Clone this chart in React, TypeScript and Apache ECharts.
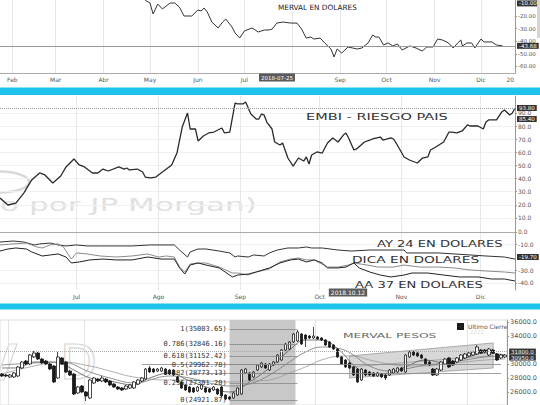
import React, { useEffect, useRef } from 'react';
import * as echarts from 'echarts';

const MONTHS_ES = ['Ene', 'Feb', 'Mar', 'Abr', 'May', 'Jun', 'Jul', 'Ago', 'Sep', 'Oct', 'Nov', 'Dic'];

// ---------- Panel 1: MERVAL EN DOLARES ----------
const mervalUsdDates = ['2018-04-26','2018-04-28','2018-05-01','2018-05-03','2018-05-06','2018-05-09','2018-05-14','2018-05-17','2018-05-20','2018-05-23','2018-05-28','2018-06-01','2018-06-03','2018-06-05','2018-06-07','2018-06-10','2018-06-14','2018-06-17','2018-06-19','2018-06-23','2018-06-25','2018-06-28','2018-07-01','2018-07-06','2018-07-10','2018-07-14','2018-07-17','2018-07-19','2018-07-22','2018-07-26','2018-07-31','2018-08-04','2018-08-07','2018-08-10','2018-08-13','2018-08-15','2018-08-19','2018-08-22','2018-08-26','2018-08-28','2018-08-30','2018-09-02','2018-09-06','2018-09-09','2018-09-12','2018-09-15','2018-09-19','2018-09-22','2018-09-24','2018-09-26','2018-09-29','2018-10-02','2018-10-05','2018-10-08','2018-10-11','2018-10-16','2018-10-20','2018-10-24','2018-10-27','2018-10-31','2018-11-03','2018-11-06','2018-11-10','2018-11-13','2018-11-16','2018-11-18','2018-11-19','2018-11-22','2018-11-25','2018-11-27','2018-12-01','2018-12-03','2018-12-08','2018-12-11','2018-12-15'];
const mervalUsdValues = [-4.0,-7.5,-9.7,-18.4,-10.5,-14.4,-9.7,-9.7,-12.9,-20.0,-20.0,-15.2,-16.0,-13.7,-16.8,-24.8,-29.5,-24.8,-22.4,-28.7,-33.5,-37.5,-31.9,-29.5,-32.7,-31.1,-31.1,-30.3,-25.6,-24.8,-25.6,-25.6,-30.3,-37.5,-36.7,-38.3,-37.5,-41.4,-46.2,-52.5,-46.2,-49.4,-44.6,-45.4,-46.2,-45.4,-41.4,-35.1,-36.7,-36.7,-43.0,-41.4,-43.8,-42.2,-47.0,-43.8,-45.4,-47.8,-44.6,-44.6,-38.3,-39.0,-41.4,-45.4,-41.4,-39.0,-43.8,-41.4,-41.4,-45.4,-38.3,-40.6,-40.6,-43.0,-43.68];
const mervalUsdLast = -43.68;
const mervalUsdCursor = -10;
const topXRange = ['2018-01-24', '2018-12-23'];
const topXTicks = ['2018-02-01','2018-03-01','2018-04-01','2018-05-01','2018-06-01','2018-07-01','2018-08-01','2018-09-01','2018-10-01','2018-11-01','2018-12-01'];
// "Ago" sits under the cursor date box in the reference, so it is not labelled
const topXLabels = ['2018-02-01','2018-03-01','2018-04-01','2018-05-01','2018-06-01','2018-07-01','2018-09-01','2018-10-01','2018-11-01','2018-12-01','2018-12-20'];
const topYTicks = [-60, -50, -40, -30, -20];

// ---------- Panel 2: EMBI ----------
const embiDates = ['2018-06-02','2018-06-05','2018-06-08','2018-06-11','2018-06-14','2018-06-17','2018-06-19','2018-06-22','2018-06-25','2018-06-27','2018-06-30','2018-07-02','2018-07-04','2018-07-07','2018-07-09','2018-07-11','2018-07-13','2018-07-17','2018-07-19','2018-07-20','2018-07-21','2018-07-24','2018-07-26','2018-07-27','2018-07-29','2018-07-31','2018-08-03','2018-08-06','2018-08-08','2018-08-10','2018-08-12','2018-08-13','2018-08-15','2018-08-16','2018-08-18','2018-08-20','2018-08-22','2018-08-25','2018-08-26','2018-08-28','2018-08-30','2018-08-31','2018-09-02','2018-09-03','2018-09-05','2018-09-07','2018-09-08','2018-09-09','2018-09-10','2018-09-11','2018-09-13','2018-09-14','2018-09-16','2018-09-17','2018-09-19','2018-09-21','2018-09-23','2018-09-25','2018-09-26','2018-09-27','2018-09-28','2018-09-30','2018-10-02','2018-10-04','2018-10-06','2018-10-08','2018-10-10','2018-10-11','2018-10-12','2018-10-14','2018-10-15','2018-10-18','2018-10-20','2018-10-21','2018-10-24','2018-10-25','2018-10-28','2018-10-29','2018-10-30','2018-11-02','2018-11-04','2018-11-07','2018-11-09','2018-11-11','2018-11-12','2018-11-14','2018-11-17','2018-11-19','2018-11-20','2018-11-22','2018-11-24','2018-11-26','2018-11-27','2018-11-30','2018-12-02','2018-12-03','2018-12-04','2018-12-07','2018-12-09','2018-12-10','2018-12-12','2018-12-13','2018-12-14'];
const embiValues = [25.2,19.9,21.4,29.0,39.0,44.3,42.8,36.7,42.0,48.9,55.0,50.4,48.9,44.3,44.3,47.3,45.8,48.9,47.3,48.1,46.6,47.3,45.0,41.2,40.5,41.2,45.8,50.4,59.5,79.3,90.0,77.8,77.8,68.7,72.5,74.8,75.5,78.6,74.8,75.5,97.6,96.9,96.9,98.4,89.2,85.4,85.4,89.2,88.5,83.1,77.8,67.9,65.6,67.1,55.7,49.6,55.7,53.4,56.5,51.1,58.0,60.3,59.5,67.1,71.0,67.9,73.2,74.8,71.0,61.8,62.6,67.9,69.4,70.2,71.7,69.4,71.0,70.2,67.1,56.5,54.2,51.9,55.7,56.5,61.8,64.1,67.9,75.5,75.5,74.8,76.3,80.9,80.1,80.1,77.8,83.1,84.7,84.7,90.8,92.3,88.5,90.0,93.8];
const embiLast = 93.8;
const embiMarker = 85.4;
const embiTicks = [10, 20, 30, 40, 50, 60, 70, 80, 90];
const midXRange = ['2018-06-02', '2018-12-14'];
const midXTicks = ['2018-07-01','2018-08-01','2018-09-01','2018-10-01','2018-11-01','2018-12-01'];

// ---------- Panel 2b: bonos en dolares ----------
const ay24Dates = ['2018-06-02','2018-06-07','2018-06-11','2018-06-15','2018-06-17','2018-06-21','2018-06-24','2018-06-27','2018-07-01','2018-07-05','2018-07-10','2018-07-16','2018-07-22','2018-07-29','2018-08-07','2018-08-09','2018-08-12','2018-08-13','2018-08-16','2018-08-19','2018-08-24','2018-08-28','2018-08-30','2018-08-31','2018-09-04','2018-09-06','2018-09-10','2018-09-12','2018-09-15','2018-09-19','2018-09-23','2018-09-26','2018-09-28','2018-10-02','2018-10-08','2018-10-13','2018-10-20','2018-10-28','2018-11-02','2018-11-03','2018-11-08','2018-11-15','2018-11-21','2018-11-27','2018-12-03','2018-12-10','2018-12-14'];
const ay24Values = [-7.9,-7.1,-7.9,-10.2,-9.4,-8.7,-10.2,-11.0,-10.2,-11.0,-11.0,-11.0,-11.0,-10.2,-10.2,-14.2,-19.7,-15.7,-13.4,-13.4,-15.0,-16.5,-19.7,-18.9,-19.7,-18.1,-18.9,-16.5,-14.2,-12.6,-12.6,-11.8,-12.6,-12.6,-14.2,-15.0,-14.2,-14.2,-14.2,-16.5,-16.5,-16.5,-17.3,-18.1,-18.9,-19.7,-21.3];
const dicaDates = ['2018-06-02','2018-06-07','2018-06-12','2018-06-16','2018-06-18','2018-06-21','2018-06-24','2018-06-26','2018-06-29','2018-07-01','2018-07-05','2018-07-10','2018-07-16','2018-07-22','2018-07-28','2018-08-01','2018-08-04','2018-08-07','2018-08-09','2018-08-11','2018-08-13','2018-08-16','2018-08-19','2018-08-24','2018-08-29','2018-08-31','2018-09-04','2018-09-07','2018-09-12','2018-09-16','2018-09-20','2018-09-23','2018-09-26','2018-09-29','2018-10-04','2018-10-08','2018-10-12','2018-10-14','2018-10-19','2018-10-23','2018-10-29','2018-11-02','2018-11-08','2018-11-15','2018-11-21','2018-11-27','2018-12-03','2018-12-10','2018-12-14'];
const dicaValues = [-10.2,-9.4,-8.7,-11.8,-12.6,-10.2,-9.4,-11.8,-21.3,-16.5,-17.3,-18.9,-19.7,-18.9,-17.3,-19.7,-18.9,-19.7,-27.6,-31.5,-25.2,-24.4,-24.4,-27.6,-32.3,-32.3,-33.9,-31.5,-29.1,-23.6,-21.3,-20.5,-22.0,-22.0,-27.6,-27.6,-26.0,-24.4,-26.0,-27.6,-27.6,-26.0,-27.6,-27.6,-28.3,-29.9,-30.7,-31.5,-32.3];
const aa37Dates = ['2018-06-02','2018-06-05','2018-06-08','2018-06-12','2018-06-14','2018-06-18','2018-06-21','2018-06-24','2018-06-27','2018-06-29','2018-07-02','2018-07-06','2018-07-11','2018-07-16','2018-07-22','2018-07-28','2018-08-02','2018-08-07','2018-08-09','2018-08-11','2018-08-13','2018-08-16','2018-08-19','2018-08-24','2018-08-29','2018-08-31','2018-09-04','2018-09-07','2018-09-12','2018-09-16','2018-09-20','2018-09-23','2018-09-26','2018-09-29','2018-10-02','2018-10-04','2018-10-08','2018-10-11','2018-10-14','2018-10-16','2018-10-20','2018-10-24','2018-10-28','2018-11-02','2018-11-05','2018-11-11','2018-11-17','2018-11-23','2018-11-30','2018-12-05','2018-12-10','2018-12-14'];
const aa37Values = [-15.0,-13.4,-12.6,-13.4,-15.7,-18.9,-18.1,-17.3,-19.7,-24.4,-23.6,-22.0,-21.3,-22.0,-22.0,-19.7,-21.3,-21.3,-28.3,-33.1,-26.0,-24.4,-26.0,-28.3,-35.4,-33.9,-33.1,-31.5,-28.3,-24.4,-22.0,-21.3,-23.6,-22.0,-24.4,-28.3,-28.3,-27.6,-24.4,-28.3,-31.5,-33.9,-35.4,-33.9,-32.3,-32.3,-33.9,-35.4,-35.4,-37.0,-37.0,-38.6];
const bondMarker = -19.7;
const bondTicks = [0, -10, -30, -40];

// ---------- Panel 3: MERVAL PESOS (open, close, low, high) ----------
const mervalCandles = [
  [28610,28330,28190,28760],[28470,28330,28190,28610],[28190,28470,28050,28610],[28190,28760,28050,28900],[28330,29610,28190,29750],
  [29470,30320,29320,30460],[30460,30030,29890,30600],[30030,31310,29890,31450],[31030,31600,30890,31880],[31600,30740,30600,31740],
  [30740,30180,30030,30890],[30460,30030,29890,30600],[30030,29320,29180,30180],[29750,27480,27340,29890],[28050,31030,27900,31740],
  [30890,30030,29890,31030],[30320,28900,28760,30460],[29040,28470,28330,29180],[28610,25770,25630,28760],[25920,26770,25770,26910],
  [26910,26060,25920,27050],[26060,25490,24780,26200],[25210,27760,25060,27900],[27340,28050,27190,28190],[27900,27620,27480,28050],
  [27620,28050,27480,28330],[27900,27480,27340,28050],[27620,27050,26910,27760],[27190,26770,26630,27340],[26770,26480,26340,26910],
  [26630,26340,26200,26770],[26480,26910,26340,27050],[26630,27050,26480,27190],[26630,27480,26480,27620],[27190,27760,27050,27900],
  [27620,28050,27480,28190],[27900,29320,27760,29470],[29470,28900,28760,29750],[29320,28900,28760,29470],[29040,29320,28900,29470],
  [29040,29470,28900,29610],[29320,28610,28470,29470],[29180,28610,28470,29320],[29180,28470,28330,29320],[28190,27480,27340,28330],
  [27480,26630,26480,27620],[27050,26340,26200,27190],[26770,26060,25920,26910],[26630,26060,25920,26770],[26200,26770,26060,26910],
  [26480,27050,26340,27190],[26630,26060,25920,26770],[26480,26060,25920,26630],[26340,26770,26200,26910],[26480,25770,25630,26630],
  [26770,25490,25350,26910],[25630,25060,24920,25770],[25350,25060,24920,25490],[25210,25920,25060,26060],[25630,26630,25490,26770],
  [25770,29180,25630,29320],[28760,29320,28610,29470],[28760,27760,27620,28900],[28190,28900,28050,29040],[29180,29890,29040,30030],
  [29610,30180,29470,30320],[30030,29470,29320,30180],[29180,30030,29040,30180],[29890,30320,29750,30460],[30320,31310,30180,31450],
  [30600,32020,30460,32160],[32020,32870,31880,33020],[32160,33160,32020,33300],[33160,34290,33020,34440],[33300,34580,33160,34860],
  [34290,32870,32730,34440],[34150,33580,32450,34290],[34010,33730,33580,34150],[33730,34010,33580,35290],[33870,33580,33440,34010],
  [33730,33440,33300,33870],[33440,32730,32590,33580],[33160,32450,32310,33300],[32730,32160,32020,32870],[32160,31030,30890,32310],
  [31030,30030,29890,31170],[30600,29610,29470,30740],[30180,29470,29320,30320],[29610,28470,28330,29750],[29320,27480,27340,29470],
  [27760,29320,27620,29470],[29180,28470,28330,29320],[28900,28470,28330,29040],[28760,28330,28190,28900],[28330,28760,28190,28900],
  [28610,28190,28050,28760],[28470,28050,27760,28610],[28470,29180,28330,29320],[28760,29320,28610,29470],[28900,29470,28760,29610],
  [29470,29040,28900,29610],[28900,31310,28760,31450],[31030,31740,30890,31880],[31740,31310,31170,31880],[31600,31170,31030,31740],
  [31310,30890,30740,31450],[30740,30030,29890,30890],[30320,29890,29750,30460],[29320,28470,28330,29470],[28470,29320,28330,29470],
  [29180,30320,29040,30460],[30030,30740,29890,30890],[30890,29610,29470,31030],[30460,29890,29750,30600],[30320,30890,30180,31030],
  [30600,31310,30460,31450],[30890,31450,30740,31600],[31170,31600,31030,31740],[31310,31740,31170,31880],[31450,32450,31310,32730],
  [32020,31600,31450,32160],[32020,31740,31600,32160],[31310,32160,31170,32310],[32020,31600,31450,32160],[31450,30600,30460,31600],
  [30890,31310,30740,31450],[31030,31310,30890,31450],
];
const sessions = mervalCandles.map((_, i) => `#${i + 1}`);
const maFast = [[0,29470],[4,29470],[8,30320],[11,30320],[15,30030],[18,29180],[22,28050],[27,27620],[33,27050],[37,28050],[42,28760],[47,27620],[52,26630],[57,26060],[62,27480],[67,29470],[72,32020],[76,33440],[80,33440],[85,31740],[88,29890],[92,28610],[97,28760],[101,29610],[106,30600],[111,30180],[116,30890],[121,31600],[126,31310]];
const maMid = [[0,29890],[8,30180],[15,30320],[22,28900],[27,28050],[33,27340],[42,28330],[47,28050],[52,27340],[57,26910],[62,27190],[67,28470],[72,30320],[76,31740],[80,32450],[85,32160],[88,31310],[92,29750],[97,29040],[101,29320],[106,29890],[111,30180],[116,30600],[121,31030],[126,31170]];
const maSlow = [[0,28610],[8,29750],[15,30320],[22,29750],[27,29040],[33,28190],[42,27760],[47,27760],[52,27620],[57,27480],[62,27620],[67,27760],[72,28760],[76,29610],[80,30600],[85,31170],[88,31170],[92,30600],[97,30030],[101,29750],[106,29750],[111,30030],[116,30320],[121,30600],[126,30740]];
const fibRatios = ['1', '0.786', '0.618', '0.5', '0.382', '0.236', '0'];
const fibValues = [35003.65, 32846.16, 31152.42, 29962.78, 28773.13, 27301.20, 24921.87];
const fibZoneSessions = [57, 74];
const fibExtendedLevels = [3, 4];
const fibExtendedFrom = [35, 47];
const fibExtendedTo = 125;
const channelSessions = [87, 123];
const channelTop = [31170, 33020];
const channelBottom = [28050, 29470];
const channelMid = [29610, 31240];
const lastCloseMarks = [31800, 30950];
const pesoTicks = [26000, 28000, 30000, 34000, 36000];
const monthSessions = [2, 21, 60, 79, 117];

const ts = (d: string) => Date.parse(d);
const zip = (d: string[], v: number[]) => d.map((x, i) => [ts(x), v[i]]);

const boxLabel = (text: string, size = 5.5) => ({
  show: true, position: 'end', distance: 2, formatter: text,
  backgroundColor: '#333', color: '#fff', fontSize: size, padding: [0, 2], lineHeight: size + 0.5,
  fontFamily: 'DejaVu Sans',
});
const HIDDEN_LINE = { color: 'transparent', width: 1 };

const monthFmt = (value: number) => {
  const d = new Date(value);
  return d.getUTCDate() === 1 ? MONTHS_ES[d.getUTCMonth()] : String(d.getUTCDate());
};

const Y0 = [-65.24, -7.3];
const Y1 = [3.9, 102.95];
const Y2 = [-45.67, 4.72];
const Y3 = [24212, 36282];

function buildOption() {
  const axisLbl = { fontSize: 6, color: '#555', margin: 3 };
  const midTicks = midXTicks.map(ts);
  const fibData: any[] = fibRatios.map((r, i) => [
    {
      coord: [fibZoneSessions[0], fibValues[i]],
      label: { show: true, position: 'start', distance: 3, formatter: `${r}(${fibValues[i].toFixed(2)})`, fontSize: 7, color: '#333', fontFamily: 'DejaVu Sans Mono' },
    },
    { coord: [fibZoneSessions[1], fibValues[i]] },
  ]);
  fibExtendedLevels.forEach((lvl, k) => {
    fibData.push([
      { coord: [fibExtendedFrom[k], fibValues[lvl]], label: { show: false } },
      { coord: [fibExtendedTo, fibValues[lvl]] },
    ]);
  });
  fibData.push({ yAxis: lastCloseMarks[0], lineStyle: { type: 'dotted', color: '#aaa', width: 1 }, label: boxLabel(lastCloseMarks[0].toFixed(1), 5.5) });
  fibData.push({ yAxis: lastCloseMarks[1], lineStyle: HIDDEN_LINE, label: boxLabel(lastCloseMarks[1].toFixed(1), 5.5) });

  const timeAxis = (gridIndex: number, range: string[], ticks: string[], labels: string[], showLabels: boolean, showLine: boolean) => ({
    type: 'value', gridIndex, min: ts(range[0]), max: ts(range[1]), scale: true,
    axisLine: { show: showLine, lineStyle: { color: '#aaa' } },
    axisTick: { show: false, customValues: ticks.map(ts) },
    axisLabel: { ...axisLbl, show: showLabels, customValues: labels.map(ts), formatter: monthFmt },
    splitLine: { show: true, lineStyle: { color: '#e8e8e8', width: 1 } },
  });

  return {
    animation: false,
    backgroundColor: '#ffffff',
    textStyle: { fontFamily: 'DejaVu Sans' },
    legend: {
      data: [{ name: 'Ultimo Cierre', icon: 'rect', itemStyle: { color: '#222' } }],
      left: 457, top: 323, itemWidth: 5, itemHeight: 5, itemGap: 3, padding: 0,
      selectedMode: false, textStyle: { fontSize: 6, color: '#555' },
    },
    grid: [
      { left: 0, right: 25, top: 0, height: 73 },
      { left: 0, right: 25, top: 96, height: 130 },
      { left: 0, right: 25, top: 226, height: 64 },
      { left: 0, right: 30, top: 320, height: 85, show: true, borderColor: '#dddddd', borderWidth: 1, backgroundColor: 'transparent' },
    ],
    xAxis: [
      timeAxis(0, topXRange, topXTicks, topXLabels, true, true),
      timeAxis(1, midXRange, midXTicks, midXTicks, false, false),
      timeAxis(2, midXRange, midXTicks, midXTicks, true, true),
      {
        type: 'category', gridIndex: 3, data: sessions, boundaryGap: true,
        axisLine: { show: false }, axisTick: { show: false }, axisLabel: { show: false },
        splitLine: { show: true, interval: (i: number) => monthSessions.includes(i), lineStyle: { color: '#e3e3e3' } },
      },
    ],
    yAxis: [
      {
        type: 'value', gridIndex: 0, position: 'right', min: Y0[0], max: Y0[1],
        axisLine: { show: true, lineStyle: { color: '#999' } },
        axisTick: { show: true, length: 2, customValues: topYTicks, lineStyle: { color: '#999' } },
        axisLabel: { ...axisLbl, fontSize: 5.5, customValues: topYTicks, formatter: (v: number) => v.toFixed(2) },
        splitLine: { show: false },
      },
      {
        type: 'value', gridIndex: 1, position: 'right', min: Y1[0], max: Y1[1],
        axisLine: { show: true, lineStyle: { color: '#999' } },
        axisTick: { show: true, length: 2, customValues: embiTicks, lineStyle: { color: '#999' } },
        axisLabel: { ...axisLbl, customValues: embiTicks, formatter: (v: number) => v.toFixed(1) },
        splitLine: { show: true, lineStyle: { color: '#f0f0f0' } },
      },
      {
        type: 'value', gridIndex: 2, position: 'right', min: Y2[0], max: Y2[1],
        axisLine: { show: true, lineStyle: { color: '#999' } },
        axisTick: { show: true, length: 2, customValues: bondTicks, lineStyle: { color: '#999' } },
        axisLabel: { ...axisLbl, customValues: bondTicks, formatter: (v: number) => v.toFixed(1) },
        splitLine: { show: true, lineStyle: { color: '#f0f0f0' } },
      },
      {
        type: 'value', gridIndex: 3, position: 'right', min: Y3[0], max: Y3[1],
        axisLine: { show: true, lineStyle: { color: '#999' } },
        axisTick: { show: true, length: 2, customValues: pesoTicks, lineStyle: { color: '#999' } },
        axisLabel: { ...axisLbl, fontSize: 6.5, customValues: pesoTicks, formatter: (v: number) => v.toFixed(1) },
        splitLine: { show: false },
      },
    ],
    series: [
      {
        type: 'line', name: 'MERVAL EN DOLARES', xAxisIndex: 0, yAxisIndex: 0,
        data: zip(mervalUsdDates, mervalUsdValues), symbol: 'none',
        lineStyle: { color: '#333', width: 1 }, z: 3,
        markLine: {
          silent: true, symbol: ['none', 'none'], animation: false,
          data: [
            { yAxis: mervalUsdLast, lineStyle: { color: '#999', type: 'solid', width: 1 }, label: boxLabel(mervalUsdLast.toFixed(2)) },
            { yAxis: mervalUsdCursor, lineStyle: HIDDEN_LINE, label: boxLabel(mervalUsdCursor.toFixed(2)) },
          ],
        },
      },
      {
        type: 'line', name: 'EMBI', xAxisIndex: 1, yAxisIndex: 1,
        data: zip(embiDates, embiValues), symbol: 'none',
        lineStyle: { color: '#2a2a2a', width: 1.3 }, z: 3,
        markLine: {
          silent: true, symbol: ['none', 'none'], animation: false,
          data: [
            { yAxis: embiLast, lineStyle: { color: '#999', type: 'dotted', width: 1 }, label: boxLabel(embiLast.toFixed(2), 5.5) },
            { yAxis: embiMarker, lineStyle: HIDDEN_LINE, label: boxLabel(embiMarker.toFixed(2), 5.5) },
          ],
        },
      },
      {
        type: 'line', name: 'AY 24', xAxisIndex: 2, yAxisIndex: 2,
        data: zip(ay24Dates, ay24Values), symbol: 'none', lineStyle: { color: '#333', width: 1 }, z: 3,
        markLine: {
          silent: true, symbol: ['none', 'none'], animation: false,
          data: [{ yAxis: bondMarker, lineStyle: HIDDEN_LINE, label: boxLabel(bondMarker.toFixed(2), 5.5) }],
        },
      },
      { type: 'line', name: 'DICA', xAxisIndex: 2, yAxisIndex: 2, data: zip(dicaDates, dicaValues), symbol: 'none', lineStyle: { color: '#8a8a8a', width: 1 }, z: 3 },
      { type: 'line', name: 'AA 37', xAxisIndex: 2, yAxisIndex: 2, data: zip(aa37Dates, aa37Values), symbol: 'none', lineStyle: { color: '#222', width: 1 }, z: 3 },
      {
        type: 'custom', name: 'fibZone', xAxisIndex: 3, yAxisIndex: 3, z: 1, silent: true, clip: false,
        data: [[fibZoneSessions[0], fibZoneSessions[1], Y3[1], Y3[0]]],
        encode: { x: [0, 1], y: [2, 3] },
        renderItem: (params: any, api: any) => {
          const half = api.size([1, 0])[0] / 2;
          const a = api.coord([api.value(0), api.value(2)]);
          const b = api.coord([api.value(1), api.value(3)]);
          return { type: 'rect', shape: { x: a[0], y: a[1], width: b[0] - half - a[0], height: b[1] - a[1] }, style: { fill: '#c8c8c8' } };
        },
      },
      {
        type: 'custom', name: 'canal', xAxisIndex: 3, yAxisIndex: 3, z: 1, silent: true, clip: false,
        data: [[channelSessions[0], channelSessions[1], channelTop[0], channelTop[1], channelBottom[0], channelBottom[1], channelMid[0], channelMid[1]]],
        encode: { x: [0, 1], y: [2, 3, 4, 5, 6, 7] },
        renderItem: (params: any, api: any) => {
          const x0 = api.value(0), x1 = api.value(1);
          const p1 = api.coord([x0, api.value(2)]);
          const p2 = api.coord([x1, api.value(3)]);
          const p3 = api.coord([x1, api.value(5)]);
          const p4 = api.coord([x0, api.value(4)]);
          const m1 = api.coord([x0, api.value(6)]);
          const m2 = api.coord([x1, api.value(7)]);
          return {
            type: 'group',
            children: [
              { type: 'polygon', shape: { points: [p1, p2, p3, p4] }, style: { fill: 'rgba(175,175,175,0.5)', stroke: '#999', lineWidth: 0.8 } },
              { type: 'polyline', shape: { points: [m1, m2] }, style: { fill: 'none', stroke: '#999', lineWidth: 0.8 } },
            ],
          };
        },
      },
      { type: 'line', name: 'MA corto', xAxisIndex: 3, yAxisIndex: 3, data: maFast, symbol: 'none', smooth: 0.4, lineStyle: { color: '#555', width: 0.8 }, z: 2 },
      { type: 'line', name: 'MA medio', xAxisIndex: 3, yAxisIndex: 3, data: maMid, symbol: 'none', smooth: 0.4, lineStyle: { color: '#777', width: 0.8 }, z: 2 },
      { type: 'line', name: 'MA largo', xAxisIndex: 3, yAxisIndex: 3, data: maSlow, symbol: 'none', smooth: 0.4, lineStyle: { color: '#9a9a9a', width: 0.8 }, z: 2 },
      {
        type: 'candlestick', name: 'Ultimo Cierre', xAxisIndex: 3, yAxisIndex: 3, z: 3,
        data: mervalCandles, barWidth: 3,
        itemStyle: { color: '#ffffff', color0: '#1a1a1a', borderColor: '#1a1a1a', borderColor0: '#1a1a1a', borderWidth: 0.8 },
        markLine: {
          silent: true, symbol: ['none', 'none'], animation: false,
          lineStyle: { color: '#888', type: 'solid', width: 0.8 },
          data: fibData,
        },
      },
    ],
    graphic: [
      { type: 'text', x: 0, y: 205, z: 0, scaleX: 1.83, style: { text: 'o por JP Morgan)', fontSize: 17, fontFamily: 'DejaVu Sans', fill: '#e0e0e0', textVerticalAlign: 'middle' } },
      { type: 'ellipse', z: 0, shape: { cx: 0, cy: 182, rx: 29, ry: 10.5 }, style: { fill: 'none', stroke: '#d8d8d8', lineWidth: 2.5 } },
      { type: 'polygon', z: 0, shape: { points: [[-4, 380], [4, 380], [17, 344], [9, 344]] }, style: { fill: 'none', stroke: '#d6d6d6', lineWidth: 1.2 } },
      { type: 'text', x: 60, y: 362, z: 0, style: { text: 'D', fontSize: 48, fontFamily: 'DejaVu Sans', fill: 'none', stroke: '#d6d6d6', lineWidth: 1.2, textVerticalAlign: 'middle' } },
      { type: 'text', x: 278, y: 7, z: 50, style: { text: 'MERVAL EN DOLARES', fontSize: 7.3, fontFamily: 'DejaVu Sans', fill: '#222', textVerticalAlign: 'middle' } },
      { type: 'text', x: 306, y: 117, z: 50, scaleX: 1.71, style: { text: 'EMBI - RIESGO PAIS', fontSize: 8.5, fontFamily: 'DejaVu Sans', fill: '#333', textVerticalAlign: 'middle' } },
      { type: 'text', x: 377, y: 244, z: 50, scaleX: 1.54, style: { text: 'AY 24 EN DOLARES', fontSize: 8.5, fontFamily: 'DejaVu Sans', fill: '#333', textVerticalAlign: 'middle' } },
      { type: 'text', x: 352, y: 260, z: 50, scaleX: 1.62, style: { text: 'DICA EN DOLARES', fontSize: 8.5, fontFamily: 'DejaVu Sans', fill: '#333', textVerticalAlign: 'middle' } },
      { type: 'text', x: 355, y: 285, z: 50, scaleX: 1.54, style: { text: 'AA 37 EN DOLARES', fontSize: 8.5, fontFamily: 'DejaVu Sans', fill: '#333', textVerticalAlign: 'middle' } },
      { type: 'text', x: 343, y: 335.5, z: 50, scaleX: 1.64, style: { text: 'MERVAL PESOS', fontSize: 7.5, fontFamily: 'DejaVu Sans', fill: '#666', textVerticalAlign: 'middle' } },
      { type: 'text', x: 470, y: 332, z: 50, style: { text: '2222', fontSize: 5.5, fontFamily: 'DejaVu Sans', fill: '#dddddd', textVerticalAlign: 'middle' } },
      { type: 'text', x: 277, y: 77.5, z: 100, style: { text: '2018-07-25', fontSize: 5.5, fontFamily: 'DejaVu Sans', fill: '#fff', backgroundColor: '#5a5a5a', padding: [1, 2], textAlign: 'center', textVerticalAlign: 'middle' } },
      { type: 'text', x: 348, y: 292.5, z: 100, style: { text: '2018.10.12', fontSize: 6, fontFamily: 'DejaVu Sans', fill: '#fff', backgroundColor: '#5a5a5a', padding: [1, 2], textAlign: 'center', textVerticalAlign: 'middle' } },
      { type: 'rect', z: 100, shape: { x: 0, y: 87.5, width: 540, height: 7.5 }, style: { fill: '#1ec3eb' } },
      { type: 'rect', z: 100, shape: { x: 0, y: 303.5, width: 540, height: 6 }, style: { fill: '#1ec3eb' } },
      { type: 'rect', z: 100, shape: { x: 537, y: 0, width: 3, height: 38 }, style: { fill: '#d5d5d5' } },
    ],
  };
}

export default function App() {
  const ref = useRef<HTMLDivElement>(null);
  useEffect(() => {
    if (!ref.current) return;
    const chart = echarts.init(ref.current, null, { renderer: 'svg' });
    chart.setOption(buildOption() as any);
    return () => chart.dispose();
  }, []);
  return <div ref={ref} style={{ position: 'fixed', left: 0, top: 0, width: 540, height: 405, background: '#fff' }} />;
}
